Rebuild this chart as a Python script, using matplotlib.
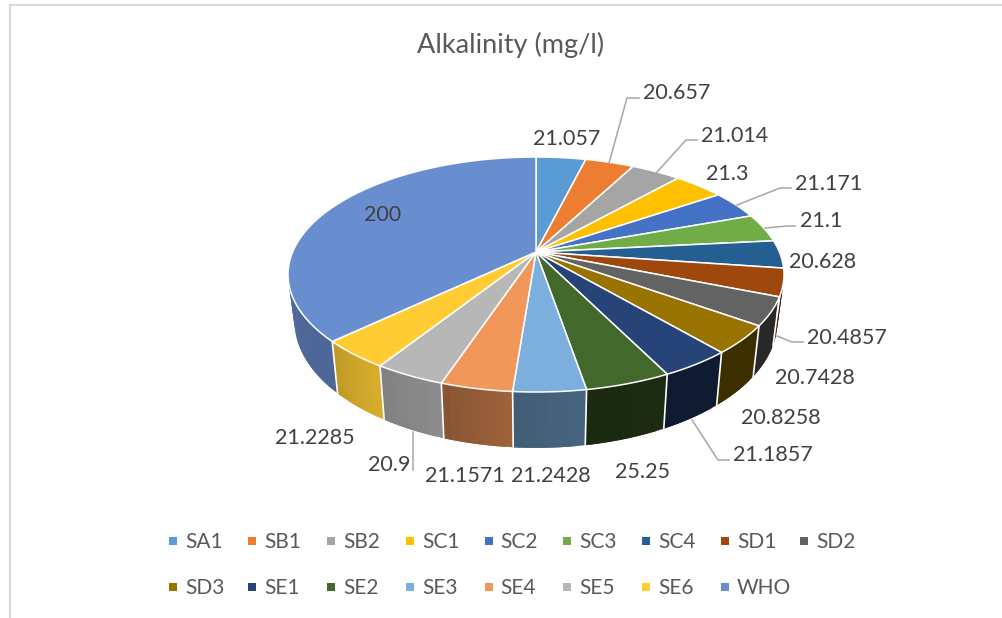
import numpy as np
import matplotlib
matplotlib.use('Agg')
import matplotlib.pyplot as plt

plt.rcParams['font.family'] = ['Lato', 'DejaVu Sans']

###########
names = ['SA1', 'SB1', 'SB2', 'SC1', 'SC2', 'SC3', 'SC4', 'SD1', 'SD2',
         'SD3', 'SE1', 'SE2', 'SE3', 'SE4', 'SE5', 'SE6', 'WHO']
values = [21.057, 20.657, 21.014, 21.3, 21.171, 21.1, 20.628, 20.4857, 20.7428,
          20.8258, 21.1857, 25.25, 21.2428, 21.1571, 20.9, 21.2285, 200]
colors = ['#5B9BD5', '#ED7D31', '#A5A5A5', '#FFC000', '#4472C4', '#70AD47',
          '#255E91', '#9E480E', '#636363', '#997300', '#264478', '#43682B',
          '#7CAFDD', '#F1975A', '#B7B7B7', '#FFCD33', '#698ED0']
# side wall brightness at the start and end of each slice
shades = [(.4, .4)] * 11 + [(.42, .4), (.58, .53), (.66, .56), (.77, .7), (.85, .75), (.72, .86)]

label_pos = [(567, 139), (677, 93), (735, 136), (727, 174), (829, 184), (821, 221),
             (823, 262), (847, 338), (815, 378), (781, 418), (773, 455), (643, 472),
             (551, 476), (465, 476), (389, 465), (315, 438), (383, 215)]
leaders = [[(609, 163), (627, 98), (639, 98)],
           [(657, 172), (686, 140), (697, 140)],
           [(737, 205), (780, 188), (791, 188)],
           [(765, 228), (787, 226), (795, 226)],
           [(777, 336), (792, 342), (803, 342)],
           [(692, 420), (718, 460), (729, 460)],
           [(413, 432), (413, 470)]]


# perspective view of the disc, angle runs clockwise from the top
def project(theta, cy, ax_x, ax_y):
    x, y = np.sin(theta), np.cos(theta)
    w = 1 + 0.1915 * y
    return 536 + ax_x * x / w, cy - ax_y * y / w


def top_face(theta):
    return project(theta, 252, 243.4, 113.2)


def bottom_face(theta):
    return project(theta, 297, 237, 122)


fig = plt.figure(figsize=(10.03, 6.18), dpi=100)
ax = fig.add_axes([0, 0, 1, 1])
ax.set_xlim(0, 1003)
ax.set_ylim(618, 0)
ax.axis('off')

# chart frame
ax.plot([10, 10], [618, 5], color='#D9D9D9', lw=1.5, zorder=1)
ax.plot([10, 1003], [5, 5], color='#D9D9D9', lw=1.5, zorder=1)

edges = np.cumsum([0] + values) / sum(values) * 2 * np.pi

# side walls first, the top face covers whatever is hidden
for i, c in enumerate(colors):
    t0, t1 = edges[i], edges[i + 1]
    rgb = np.array(matplotlib.colors.to_rgb(c))
    n = max(int((t1 - t0) * 40), 4)
    ts = np.linspace(t0, t1, n + 1)
    for j in range(n):
        f = shades[i][0] + (shades[i][1] - shades[i][0]) * (j + 0.5) / n
        # each strip runs under the next one so no seam shows
        part = np.array([ts[j], ts[min(j + 2, n)]])
        tx, ty = top_face(part)
        bx, by = bottom_face(part)
        ax.fill(np.r_[tx, bx[::-1]], np.r_[ty, by[::-1]], facecolor=tuple(rgb * f),
                edgecolor='none', zorder=2)
    # white line between neighbouring walls
    tx, ty = top_face(np.array([t1]))
    bx, by = bottom_face(np.array([t1]))
    if np.cos(t1) < 0.0 and i < len(colors) - 1:
        ax.plot([tx[0], bx[0]], [ty[0], by[0]], color='white', lw=1.2, zorder=3)

# top face
for i, c in enumerate(colors):
    arc = np.linspace(edges[i], edges[i + 1], 120)
    x, y = top_face(arc)
    ax.fill(np.r_[536, x], np.r_[252, y], facecolor=c, edgecolor='white', lw=1.1,
            joinstyle='round', zorder=4)

# leader lines and value labels
for pts in leaders:
    xs, ys = zip(*pts)
    ax.plot(xs, ys, color='#A6A6A6', lw=1.1, zorder=5)
for v, (lx, ly) in zip(values, label_pos):
    ax.text(lx, ly, str(v), ha='center', va='center', fontsize=15.5, color='#404040', zorder=6)

ax.text(511, 45, 'Alkalinity (mg/l)', ha='center', va='center', fontsize=19.5, color='#595959')

# legend, two rows
for i, (name, c) in enumerate(zip(names, colors)):
    row = 0 if i < 9 else 1
    col = i if i < 9 else i - 9
    lx = 173.5 + col * 78.8
    ly = 541 + row * 45.5
    ax.plot(lx, ly, 's', ms=5.5, color=c, mew=0)
    ax.text(lx + 12, ly + 1, name, ha='left', va='center', fontsize=15, color='#595959')

fig.savefig('out.png', dpi=100)
